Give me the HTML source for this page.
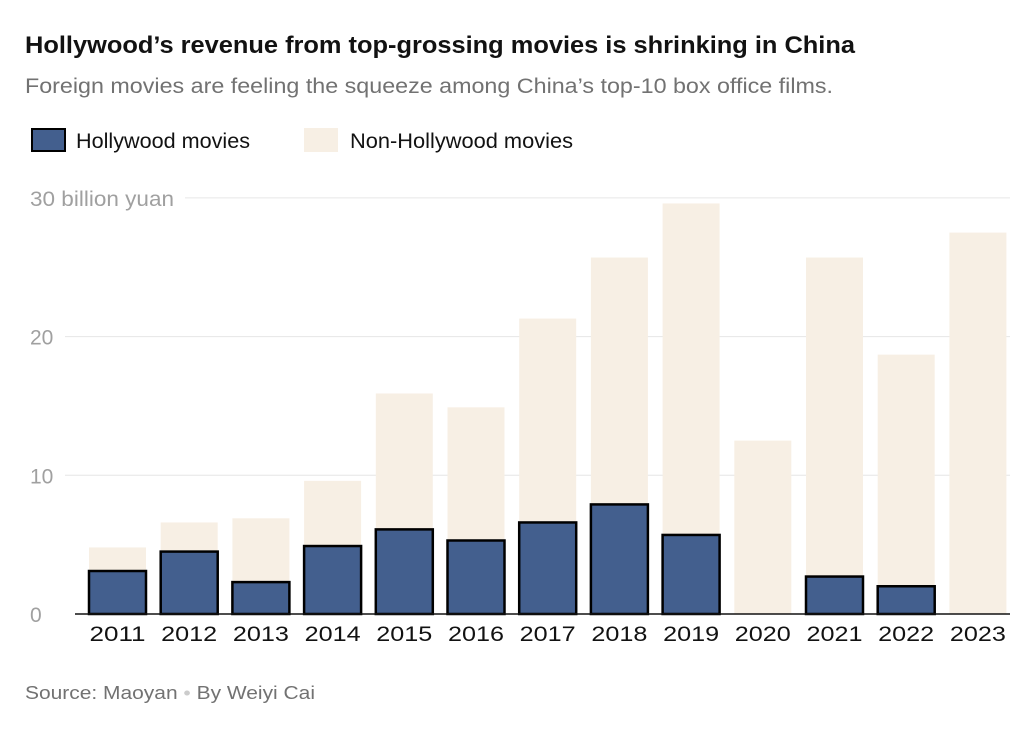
<!DOCTYPE html>
<html><head><meta charset="utf-8"><style>
body{margin:0;background:#fff;font-family:"Liberation Sans",sans-serif;}
svg text{font-family:"Liberation Sans",sans-serif;}
</style></head><body>
<svg width="1024" height="733">
<text x="25" y="53" font-size="24" font-weight="bold" fill="#121212" textLength="830" lengthAdjust="spacingAndGlyphs">Hollywood’s revenue from top-grossing movies is shrinking in China</text>
<text x="25" y="93" font-size="21" fill="#727272" textLength="808" lengthAdjust="spacingAndGlyphs">Foreign movies are feeling the squeeze among China’s top-10 box office films.</text>
<g>
<rect x="32" y="129" width="33" height="22" fill="#435f8e" stroke="#000" stroke-width="2"/>
<text x="76" y="148" font-size="21" fill="#121212" textLength="174" lengthAdjust="spacingAndGlyphs">Hollywood movies</text>
<rect x="304" y="128" width="34" height="24" fill="#f7efe4"/>
<text x="350" y="148" font-size="21" fill="#121212" textLength="223" lengthAdjust="spacingAndGlyphs">Non-Hollywood movies</text>
</g>
<g id="grid"></g><g id="bars"></g><g id="xlab"></g>
<text x="25" y="699" font-size="18" fill="#727272" textLength="290" lengthAdjust="spacingAndGlyphs">Source: Maoyan <tspan fill="#ccc">•</tspan> By Weiyi Cai</text>
</svg>
<script>
const years=["2011","2012","2013","2014","2015","2016","2017","2018","2019","2020","2021","2022","2023"];
const totalValues=[4.8,6.6,6.9,9.6,15.9,14.9,21.3,25.7,29.6,12.5,25.7,18.7,27.5];
const hollywoodValues=[3.1,4.5,2.3,4.9,6.1,5.3,6.6,7.9,5.7,0,2.7,2.0,0];
const yTicks=[0,10,20,30];
const yTickLabels=["0","10","20","30 billion yuan"];
const NS="http://www.w3.org/2000/svg";
const y0=614,ppu=13.87;
const y=v=>y0-v*ppu;
const xc=i=>117.5+i*71.7;
const bw=57;
function mk(t,a,p){const e=document.createElementNS(NS,t);for(const k in a)e.setAttribute(k,a[k]);p.appendChild(e);return e;}
const g=document.getElementById("grid");
yTicks.forEach((t,i)=>{
 if(t>0){const l=mk("line",{x1:i==3?185:65,x2:1010,y1:y(t),y2:y(t),stroke:"#e6e6e6","stroke-width":1},g);
 
 }
 const tx=mk("text",{x:30,y:y(t)+8,"font-size":21,fill:"#a0a0a0"},g);tx.textContent=yTickLabels[i];
 if(i==3){tx.setAttribute("textLength","144");tx.setAttribute("lengthAdjust","spacingAndGlyphs");}
 
 
});
const b=document.getElementById("bars");
years.forEach((yr,i)=>{
 const r=mk("rect",{x:xc(i)-bw/2,y:y(totalValues[i]),width:bw,height:totalValues[i]*ppu,fill:"#f7efe4"},b);
 
 
 if(hollywoodValues[i]>0){
  const h=mk("rect",{x:xc(i)-bw/2,y:y(hollywoodValues[i]),width:bw,height:hollywoodValues[i]*ppu,fill:"#435f8e",stroke:"#000","stroke-width":2.5},b);
  
  
 }
 const tx=mk("text",{x:xc(i),y:641,"font-size":21,fill:"#121212","text-anchor":"middle",textLength:56,lengthAdjust:"spacingAndGlyphs"},document.getElementById("xlab"));
 tx.textContent=yr;
 
 
});
const base=mk("line",{x1:75,x2:1010,y1:y0,y2:y0,stroke:"#121212","stroke-width":1.5},b);


</script>
</body></html>
